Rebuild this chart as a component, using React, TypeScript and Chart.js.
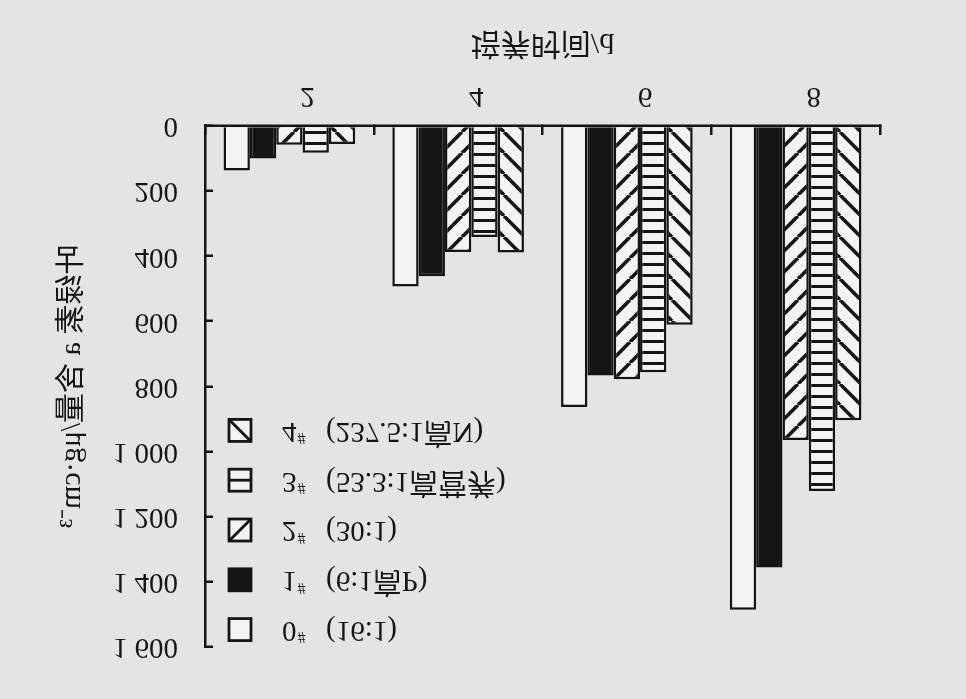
import { useEffect, useRef } from "react";
import { Chart, registerables } from "chart.js";

Chart.register(...registerables);

// ---- data ----
const categories = ["2", "4", "6", "8"];
const seriesNames = ["0#", "1#", "2#", "3#", "4#"];
const seriesNotes = ["(16:1)", "(6:1高P)", "(30:1)", "(53.3:1高营养)", "(237.5:1高N)"];
const series0 = [137, 493, 864, 1487];
const series1 = [100, 462, 767, 1357];
const series2 = [58, 387, 778, 965];
const series3 = [82, 341, 757, 1122];
const series4 = [55, 389, 611, 904];
const yMin = 0;
const yMax = 1600;
const yStep = 200;
const xTitle = "培养时间/d";
const yTitle = "叶绿素 a 含量/μg·cm⁻³";

// ---- style ----
const INK = "#141414";
const FILL = "#f3f3f3";
const PAGE = "#e4e4e4";
const FAMILY = '"Liberation Serif", "Noto Sans CJK SC", serif';

function makePattern(kind: "back" | "fwd" | "horiz"): CanvasPattern | string {
  const P = kind === "horiz" ? 11 : 21;
  const c = document.createElement("canvas");
  c.width = P;
  c.height = P;
  const g = c.getContext("2d");
  if (!g) return FILL;
  g.fillStyle = FILL;
  g.fillRect(0, 0, P, P);
  if (kind === "horiz") {
    g.fillStyle = INK;
    g.fillRect(0, 4, P, 3);
  } else {
    g.strokeStyle = INK;
    g.lineWidth = 3.6;
    for (const k of [-P, 0, P]) {
      g.beginPath();
      if (kind === "back") {
        g.moveTo(k, 0);
        g.lineTo(k + P, P);
      } else {
        g.moveTo(k, P);
        g.lineTo(k + P, 0);
      }
      g.stroke();
    }
  }
  return g.createPattern(c, "repeat") || FILL;
}

function fmt(v: number): string {
  return String(v).replace(/\B(?=(\d{3})+(?!\d))/g, " ");
}

const boxLegend = {
  id: "boxLegend",
  afterDraw(chart: any) {
    const { ctx, chartArea } = chart;
    ctx.save();
    const step = 49.8;
    seriesNames.forEach((name: string, i: number) => {
      const cy = chartArea.top + 17 + i * step;
      const bx = chartArea.left + 24;
      const s = 22;
      const top = cy - s / 2;
      ctx.fillStyle = i === 1 ? INK : FILL;
      ctx.fillRect(bx, top, s, s);
      ctx.strokeStyle = INK;
      ctx.lineWidth = 2.8;
      ctx.beginPath();
      if (i === 2) {
        ctx.moveTo(bx, top);
        ctx.lineTo(bx + s, top + s);
      } else if (i === 3) {
        ctx.moveTo(bx, cy);
        ctx.lineTo(bx + s, cy);
      } else if (i === 4) {
        ctx.moveTo(bx, top + s);
        ctx.lineTo(bx + s, top);
      }
      ctx.stroke();
      ctx.strokeRect(bx, top, s, s);

      ctx.fillStyle = INK;
      ctx.textBaseline = "middle";
      ctx.textAlign = "left";
      const num = name.replace("#", "");
      ctx.font = `29px ${FAMILY}`;
      const tx = chartArea.left + 77;
      ctx.fillText(num, tx, cy);
      const w = ctx.measureText(num).width;
      ctx.font = `16px ${FAMILY}`;
      ctx.fillText("#", tx + w + 1, cy - 7);
      ctx.font = `29px ${FAMILY}`;
      ctx.fillText(seriesNotes[i], chartArea.left + 121, cy);
    });
    ctx.restore();
  },
};

export default function App() {
  const ref = useRef<HTMLCanvasElement | null>(null);

  useEffect(() => {
    if (!ref.current) return;
    const fills = [FILL, INK, makePattern("back"), makePattern("horiz"), makePattern("fwd")];
    const values = [series0, series1, series2, series3, series4];
    const chart = new Chart(ref.current, {
      type: "bar",
      data: {
        labels: categories,
        datasets: values.map((v, i) => ({
          label: seriesNames[i] + " " + seriesNotes[i],
          data: v,
          backgroundColor: fills[i] as any,
          borderColor: INK,
          borderWidth: 2.5,
          categoryPercentage: 0.78,
          barPercentage: 1,
        })),
      },
      options: {
        responsive: false,
        animation: false,
        events: [],
        layout: { padding: { top: 47, right: 86, bottom: 0, left: 0 } },
        plugins: {
          legend: { display: false },
          tooltip: { enabled: false },
        },
        scales: {
          x: {
            grid: {
              offset: true,
              drawOnChartArea: false,
              drawTicks: true,
              tickLength: -9,
              color: INK,
              lineWidth: 2.5,
            },
            border: { display: true, color: INK, width: 2.5 },
            ticks: {
              labelOffset: 18,
              padding: 22,
              color: INK,
              font: { family: FAMILY, size: 29 },
              maxRotation: 0,
              autoSkip: false,
            },
            title: {
              display: true,
              text: xTitle,
              color: INK,
              font: { family: FAMILY, size: 30 },
              padding: { top: 0, bottom: 24 },
            },
            afterFit: (s: any) => {
              s.height = 126;
            },
          },
          y: {
            min: yMin,
            max: yMax,
            grid: {
              drawOnChartArea: false,
              drawTicks: true,
              tickLength: -8,
              color: INK,
              lineWidth: 2.5,
            },
            border: { display: true, color: INK, width: 2.5 },
            ticks: {
              stepSize: yStep,
              padding: 35,
              color: INK,
              font: { family: FAMILY, size: 29 },
              callback: (v: any) => fmt(Number(v)),
            },
            title: {
              display: true,
              text: yTitle,
              color: INK,
              font: { family: FAMILY, size: 30 },
              padding: { top: 54, bottom: 0 },
            },
            afterFit: (s: any) => {
              s.width = 205;
            },
          },
        },
      },
      plugins: [boxLegend],
    });
    return () => chart.destroy();
  }, []);

  return (
    <div
      style={{
        position: "fixed",
        left: 0,
        top: 0,
        width: 966,
        height: 699,
        background: PAGE,
        transform: "scaleY(-1)",
      }}
    >
      <canvas ref={ref} width={966} height={699} style={{ display: "block" }} />
    </div>
  );
}
